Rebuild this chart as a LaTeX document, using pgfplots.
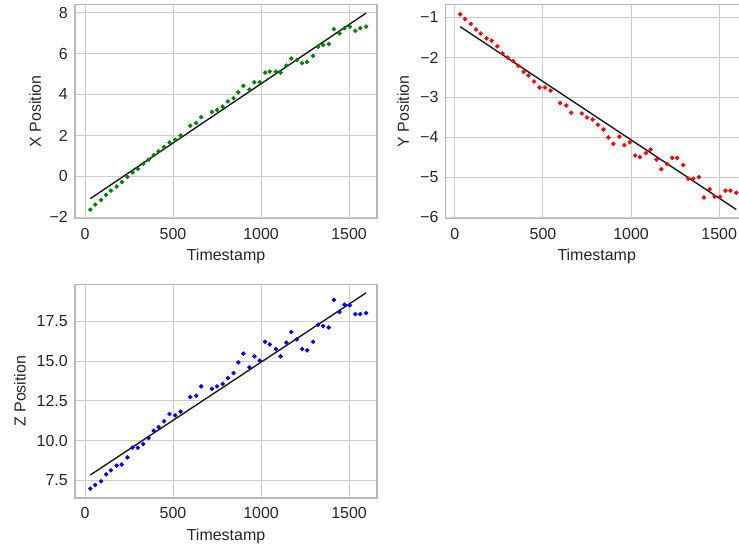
\documentclass[border=0pt]{standalone}
\usepackage{fontspec}
\setmainfont{Liberation Sans}
\usepackage{pgfplots}
\usepackage{pgfplotstable}
\pgfplotsset{compat=1.18}
\definecolor{mgreen}{HTML}{008000}
\definecolor{mred}{HTML}{FF0000}
\definecolor{mblue}{HTML}{0000FF}
\definecolor{gridc}{HTML}{CCCCCC}
\definecolor{txt}{HTML}{262626}

\pgfplotstableread{
t x y z
30 -1.63 -0.92 6.97
58 -1.38 -1.04 7.20
91 -1.15 -1.16 7.43
120 -0.91 -1.30 7.87
147 -0.70 -1.40 8.12
180 -0.50 -1.52 8.42
209 -0.28 -1.58 8.49
241 -0.03 -1.72 8.94
270 0.20 -1.90 9.55
300 0.37 -2.00 9.55
331 0.62 -2.09 9.78
361 0.81 -2.21 10.16
390 1.04 -2.36 10.62
418 1.22 -2.45 10.85
449 1.43 -2.60 11.21
480 1.66 -2.75 11.67
512 1.79 -2.75 11.58
543 2.00 -2.83 11.82
598 2.47 -3.14 12.74
632 2.60 -3.20 12.82
660 2.89 -3.38 13.41
721 3.14 -3.40 13.26
750 3.25 -3.50 13.41
782 3.41 -3.55 13.56
812 3.66 -3.68 13.93
844 3.82 -3.80 14.25
871 4.11 -4.00 14.92
900 4.42 -4.16 15.47
934 4.24 -3.98 14.61
962 4.60 -4.19 15.30
993 4.60 -4.12 15.03
1023 5.07 -4.45 16.22
1050 5.12 -4.49 16.05
1084 5.12 -4.39 15.76
1111 5.07 -4.30 15.30
1144 5.41 -4.55 16.16
1172 5.76 -4.79 16.83
1204 5.69 -4.66 16.37
1234 5.53 -4.51 15.76
1262 5.59 -4.51 15.68
1296 5.89 -4.69 16.22
1324 6.34 -5.03 17.29
1353 6.42 -5.03 17.21
1385 6.47 -4.99 17.12
1414 7.19 -5.50 18.86
1446 6.99 -5.29 18.09
1474 7.24 -5.48 18.55
1505 7.32 -5.48 18.51
1536 7.11 -5.33 17.96
1564 7.24 -5.33 17.96
1597 7.32 -5.38 18.02
}\datatable

\pgfplotsset{
  myax/.style={
    scale only axis, width=217.44pt, height=153.8pt,
    grid=major,
    major grid style={draw=gridc, line width=0.75pt},
    axis line style={draw=gridc!90!black, line width=0.8pt},
    major tick length=0pt,
    tick label style={font=\fontsize{11.5}{13}\selectfont, text=txt},
    label style={font=\fontsize{11.5}{13}\selectfont, text=txt},
    xtick={0,500,1000,1500},
    xticklabels={0,500,1000,1500},
    xticklabel style={anchor=base, inner sep=0pt, yshift=-15.1pt},
    yticklabel style={anchor=east, inner sep=0pt, xshift=-5pt},
    xlabel={Timestamp},
    xlabel style={at={(axis description cs:0.5,0)}, anchor=base, yshift=-30.5pt},
    anchor=south west,
  },
  pts/.style={only marks, mark=*, mark size=1.4pt, mark options={draw=none}},
  fit/.style={no marks, black!90, line width=1pt},
}

\begin{document}
\begin{tikzpicture}
\path[use as bounding box] (0,0) rectangle (532.08pt,395.28pt);
\clip (0,0) rectangle (532.08pt,395.28pt);

% X position
\begin{axis}[myax, at={(54pt,238.1pt)},
  xmin=-57, xmax=1659, ymin=-2.05, ymax=8.39,
  ytick={-2,0,2,4,6,8}, yticklabels={−2,0,2,4,6,8},
  ylabel={X Position},
  ylabel style={at={(axis description cs:-0.132,0.5)}, anchor=center},
]
\addplot[pts, mgreen, mark options={fill=mgreen}] table[x=t, y=x] {\datatable};
\addplot[fit] coordinates {(30,-1.09) (1597,7.98)};
\end{axis}

% Y position
\begin{axis}[myax, at={(320.9pt,238.1pt)},
  xmin=-52, xmax=1662, ymin=-6.02, ymax=-0.68,
  ytick={-6,-5,-4,-3,-2,-1}, yticklabels={−6,−5,−4,−3,−2,−1},
  ylabel={Y Position},
  ylabel style={at={(axis description cs:-0.141,0.5)}, anchor=center},
]
\addplot[pts, mred, mark options={fill=mred}] table[x=t, y=y] {\datatable};
\addplot[fit] coordinates {(30,-1.23) (1597,-5.80)};
\end{axis}

% Z position
\begin{axis}[myax, at={(54pt,36.7pt)},
  xmin=-57, xmax=1659, ymin=6.38, ymax=19.83,
  ytick={7.5,10,12.5,15,17.5}, yticklabels={7.5,10.0,12.5,15.0,17.5},
  ylabel={Z Position},
  ylabel style={at={(axis description cs:-0.182,0.5)}, anchor=center},
]
\addplot[pts, mblue, mark options={fill=mblue}] table[x=t, y=z] {\datatable};
\addplot[fit] coordinates {(30,7.83) (1597,19.30)};
\end{axis}
\end{tikzpicture}
\end{document}
